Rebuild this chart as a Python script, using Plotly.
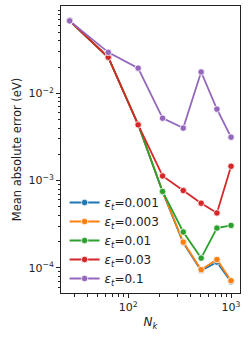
import numpy as np
import plotly.graph_objects as go

nk = [27, 64, 125, 216, 343, 512, 729, 1000]
eps_labels = ["0.001", "0.003", "0.01", "0.03", "0.1"]
mae_0001 = [0.068, 0.026, 0.0044, 0.00074, 0.000193, 9.3e-5, 0.000116, 6.9e-5]
mae_0003 = [0.068, 0.026, 0.0044, 0.00075, 0.000197, 9.5e-5, 0.000124, 7.1e-5]
mae_001 = [0.068, 0.026, 0.0044, 0.00075, 0.000257, 0.000129, 0.000285, 0.000306]
mae_003 = [0.068, 0.026, 0.00436, 0.00113, 0.00077, 0.00055, 0.000425, 0.00146]
mae_01 = [0.068, 0.0296, 0.0195, 0.0052, 0.0040, 0.0176, 0.0066, 0.00315]
colors = ["#1f77b4", "#ff7f0e", "#2ca02c", "#d62728", "#9467bd"]

series = [mae_0001, mae_0003, mae_001, mae_003, mae_01]

fig = go.Figure()
for lab, vals, c in zip(eps_labels, series, colors):
    fig.add_trace(go.Scatter(
        x=nk, y=vals, mode="lines+markers",
        name="<i>ε</i><sub><i>t</i></sub>=" + lab,
        line=dict(color=c, width=1.8),
        marker=dict(color=c, size=6.5, line=dict(color="white", width=0.8)),
    ))

x_minor = [m * 10 ** e for e in [1, 2] for m in range(2, 10)] + [2000]
y_minor = [m * 10 ** e for e in [-5, -4, -3, -2] for m in range(2, 10)]

font = dict(family="DejaVu Sans", size=11, color="#222")
fig.update_layout(
    width=249, height=339,
    margin=dict(l=61, r=9, t=6, b=46),
    paper_bgcolor="white", plot_bgcolor="white",
    font=font,
    showlegend=True,
    legend=dict(x=0.02, y=0.0, xanchor="left", yanchor="bottom",
                bgcolor="rgba(255,255,255,0)", font=dict(family="DejaVu Sans", size=12, color="#222"),
                tracegroupgap=0, itemwidth=30),
)
fig.update_xaxes(
    type="log", range=[1.347, 3.087],
    tickvals=[100, 1000], ticktext=["10<sup>2</sup>", "10<sup>3</sup>"],
    ticks="outside", ticklen=4, tickcolor="#222", tickwidth=1,
    minor=dict(tickvals=x_minor, ticks="outside", ticklen=2.5, tickcolor="#222", tickwidth=0.8),
    showgrid=False, showline=True, linecolor="#222", linewidth=1, mirror=True,
    title=dict(text="<i>N</i><sub><i>k</i></sub>", font=dict(family="DejaVu Sans", size=12, color="#222"), standoff=4),
)
fig.update_yaxes(
    type="log", range=[-4.29, -0.997],
    tickvals=[1e-4, 1e-3, 1e-2], ticktext=["10<sup>−4</sup>", "10<sup>−3</sup>", "10<sup>−2</sup>"],
    ticks="outside", ticklen=4, tickcolor="#222", tickwidth=1,
    minor=dict(tickvals=y_minor, ticks="outside", ticklen=2.5, tickcolor="#222", tickwidth=0.8),
    showgrid=False, showline=True, linecolor="#222", linewidth=1, mirror=True,
    title=dict(text="Mean absolute error (eV)", font=dict(family="DejaVu Sans", size=11.5, color="#222"), standoff=4),
)
fig.write_html("out.html", config={"displayModeBar": False},
               post_script="document.body.style.margin='0';document.body.style.overflow='hidden';")
